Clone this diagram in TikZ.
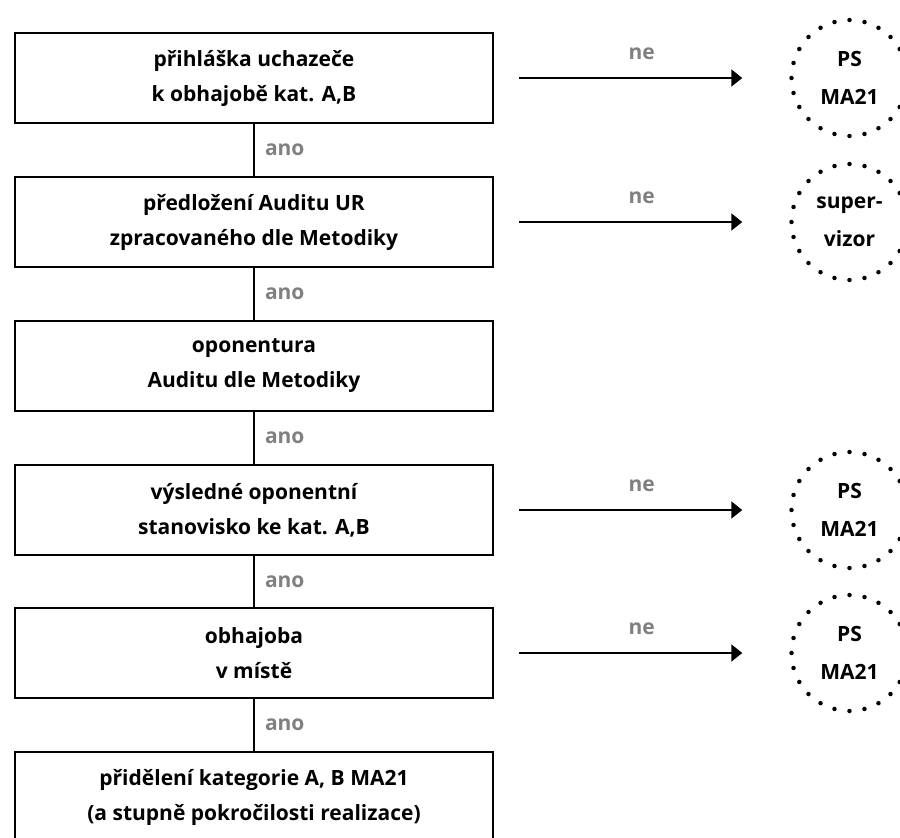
\documentclass[tikz,border=0pt]{standalone}
\usepackage{fontspec}
\setmainfont{Open Sans}
\usetikzlibrary{arrows.meta}
\definecolor{anogray}{RGB}{128,128,128}
\tikzset{
	stepbox/.style={draw, line width=2pt, minimum width=478pt, minimum height=90pt,
		inner sep=0pt, align=center, font=\fontsize{21}{35}\selectfont\bfseries},
	endcirc/.style={circle, draw, line width=4.5pt, line cap=round,
		dash pattern=on 0pt off 15.18pt, minimum size=116pt, inner sep=0pt,
		align=center, font=\fontsize{21}{38}\selectfont\bfseries},
	answer/.style={text=anogray, inner sep=0pt, font=\fontsize{21}{24}\selectfont\bfseries},
	yesline/.style={line width=2pt},
	noline/.style={line width=2pt, -{Triangle[length=11pt,width=17pt]},
		shorten <=25pt, shorten >=47pt},
}
\begin{document}
\begin{tikzpicture}[x=1pt, y=-1pt]
	\useasboundingbox (0,0) rectangle (900,838);
	\clip (0,0) rectangle (900,838);

		\node[stepbox] at (254, 78) (prihlaska) {přihláška uchazeče\\k obhajobě kat. A,B};
		\node[stepbox] at (254, 222) (audit) {předložení Auditu UR\\zpracovaného dle Metodiky};
		\node[stepbox] at (254, 366) (oponentura) {oponentura\\Auditu dle Metodiky};
		\node[stepbox] at (254, 510) (stanovisko) {výsledné oponentní\\stanovisko ke kat. A,B};
		\node[stepbox] at (254, 653) (obhajoba) {obhajoba\\v místě};
		\node[stepbox] at (254, 797) (prideleni) {přidělení kategorie A, B MA21\\(a stupně pokročilosti realizace)};

		\node[endcirc] at (849.5, 78) (ps1) {PS\\MA21};
		\node[endcirc] at (849.5, 222) (supervizor) {super-\\vizor};
		\node[endcirc] at (849.5, 510) (ps2) {PS\\MA21};
		\node[endcirc] at (849.5, 653) (ps3) {PS\\MA21};

		\draw[yesline] (prihlaska) -- node[answer, right=10pt] {ano} (audit);
		\draw[yesline] (audit) -- node[answer, right=10pt] {ano} (oponentura);
		\draw[yesline] (oponentura) -- node[answer, right=10pt] {ano} (stanovisko);
		\draw[yesline] (stanovisko) -- node[answer, right=10pt] {ano} (obhajoba);
		\draw[yesline] (obhajoba) -- node[answer, right=10pt] {ano} (prideleni);

		\draw[noline] (prihlaska.east) -- node[answer, above=17pt] {ne} (ps1.west);
		\draw[noline] (audit.east) -- node[answer, above=17pt] {ne} (supervizor.west);
		\draw[noline] (stanovisko.east) -- node[answer, above=17pt] {ne} (ps2.west);
		\draw[noline] (obhajoba.east) -- node[answer, above=17pt] {ne} (ps3.west);

	\end{tikzpicture}
\end{document}
